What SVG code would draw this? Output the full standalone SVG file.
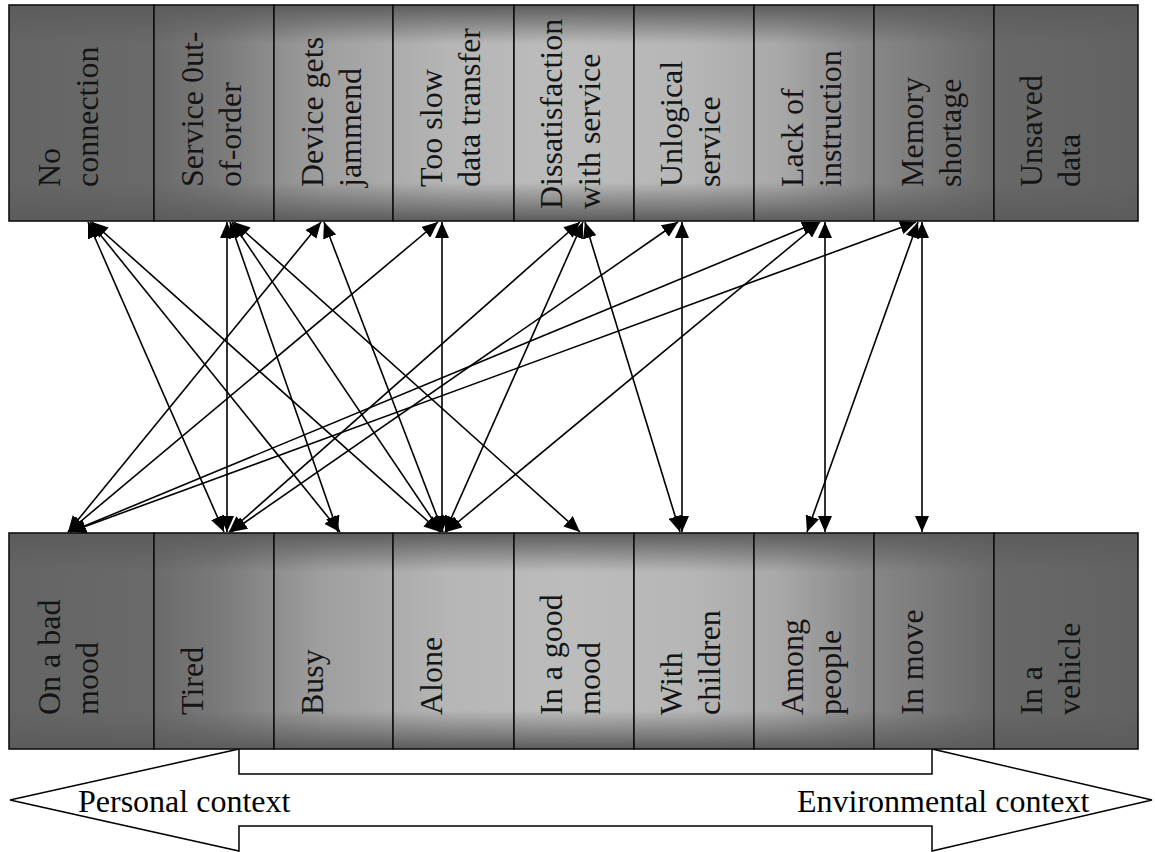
<svg xmlns="http://www.w3.org/2000/svg" width="1155" height="852" viewBox="0 0 1155 852">
<defs>
<linearGradient id="hg" gradientUnits="userSpaceOnUse" x1="9" y1="0" x2="1138" y2="0">
<stop offset="0" stop-color="#646464"/>
<stop offset="0.125" stop-color="#6a6a6a"/>
<stop offset="0.187" stop-color="#7a7a7a"/>
<stop offset="0.275" stop-color="#9e9e9e"/>
<stop offset="0.39" stop-color="#b6b6b6"/>
<stop offset="0.497" stop-color="#bcbcbc"/>
<stop offset="0.603" stop-color="#b6b6b6"/>
<stop offset="0.683" stop-color="#a8a8a8"/>
<stop offset="0.754" stop-color="#8a8a8a"/>
<stop offset="0.816" stop-color="#7a7a7a"/>
<stop offset="0.878" stop-color="#686868"/>
<stop offset="1" stop-color="#626262"/>
</linearGradient>
<linearGradient id="vg" x1="0" y1="0" x2="0" y2="1">
<stop offset="0" stop-color="#5c5c5c" stop-opacity="1"/>
<stop offset="0.18" stop-color="#5c5c5c" stop-opacity="0"/>
<stop offset="0.82" stop-color="#5c5c5c" stop-opacity="0"/>
<stop offset="1" stop-color="#5c5c5c" stop-opacity="1"/>
</linearGradient>
<marker id="ah" viewBox="0 0 16 14" refX="16" refY="7" markerWidth="16" markerHeight="14" markerUnits="userSpaceOnUse" orient="auto-start-reverse">
<path d="M0,0 L16,7 L0,14 z" fill="#000"/>
</marker>
<style>
.bg{fill:url(#hg);}
.sh{fill:url(#vg);stroke:#111;stroke-width:1.6;}
.lbl{font-family:"Liberation Serif","Times New Roman",serif;font-size:32px;fill:#141414;}
.ln{stroke:#000;stroke-width:1.6;fill:none;marker-start:url(#ah);marker-end:url(#ah);}
.ctx{fill:#fff;stroke:#000;stroke-width:1.5;}
.ctxt{font-family:"Liberation Serif","Times New Roman",serif;font-size:32px;fill:#000;}
</style>
</defs>
<rect width="1155" height="852" fill="#fff"/>

<g id="context-arrow">
<polygon class="ctx" points="10,800 239,749 239,774 932,774 932,749 1152,800 932,851 932,826 239,826 239,851"/>
<text class="ctxt" x="78" y="812">Personal context</text>
<text class="ctxt" x="797" y="812">Environmental context</text>
</g>

<g id="n-no-connection"><rect class="bg" x="9" y="5" width="145" height="216"/><rect class="sh" x="9" y="5" width="145" height="216"/>
<text class="lbl" transform="translate(60,187) rotate(-90)"><tspan x="0" y="0">No</tspan><tspan x="0" y="38">connection</tspan></text></g>
<g id="n-service-out-of-order"><rect class="bg" x="154" y="5" width="120" height="216"/><rect class="sh" x="154" y="5" width="120" height="216"/>
<text class="lbl" transform="translate(203,187) rotate(-90)"><tspan x="0" y="0">Service 0ut-</tspan><tspan x="0" y="38">of-order</tspan></text></g>
<g id="n-device-jammend"><rect class="bg" x="274" y="5" width="119" height="216"/><rect class="sh" x="274" y="5" width="119" height="216"/>
<text class="lbl" transform="translate(323,187) rotate(-90)"><tspan x="0" y="0">Device gets</tspan><tspan x="0" y="38">jammend</tspan></text></g>
<g id="n-too-slow"><rect class="bg" x="393" y="5" width="121" height="216"/><rect class="sh" x="393" y="5" width="121" height="216"/>
<text class="lbl" transform="translate(442,187) rotate(-90)"><tspan x="0" y="0">Too slow</tspan><tspan x="0" y="38">data transfer</tspan></text></g>
<g id="n-dissatisfaction"><rect class="bg" x="514" y="5" width="120" height="216"/><rect class="sh" x="514" y="5" width="120" height="216"/>
<text class="lbl" transform="translate(562,209) rotate(-90)"><tspan x="0" y="0">Dissatisfaction</tspan><tspan x="0" y="38">with service</tspan></text></g>
<g id="n-unlogical"><rect class="bg" x="634" y="5" width="120" height="216"/><rect class="sh" x="634" y="5" width="120" height="216"/>
<text class="lbl" transform="translate(682,187) rotate(-90)"><tspan x="0" y="0">Unlogical</tspan><tspan x="0" y="38">service</tspan></text></g>
<g id="n-lack-of-instruction"><rect class="bg" x="754" y="5" width="120" height="216"/><rect class="sh" x="754" y="5" width="120" height="216"/>
<text class="lbl" transform="translate(803,187) rotate(-90)"><tspan x="0" y="0">Lack of</tspan><tspan x="0" y="38">instruction</tspan></text></g>
<g id="n-memory-shortage"><rect class="bg" x="874" y="5" width="120" height="216"/><rect class="sh" x="874" y="5" width="120" height="216"/>
<text class="lbl" transform="translate(923,187) rotate(-90)"><tspan x="0" y="0">Memory</tspan><tspan x="0" y="38">shortage</tspan></text></g>
<g id="n-unsaved-data"><rect class="bg" x="994" y="5" width="144" height="216"/><rect class="sh" x="994" y="5" width="144" height="216"/>
<text class="lbl" transform="translate(1042,187) rotate(-90)"><tspan x="0" y="0">Unsaved</tspan><tspan x="0" y="38">data</tspan></text></g>

<g id="n-bad-mood"><rect class="bg" x="9" y="533" width="145" height="216"/><rect class="sh" x="9" y="533" width="145" height="216"/>
<text class="lbl" transform="translate(60,715) rotate(-90)"><tspan x="0" y="0">On a bad</tspan><tspan x="0" y="38">mood</tspan></text></g>
<g id="n-tired"><rect class="bg" x="154" y="533" width="120" height="216"/><rect class="sh" x="154" y="533" width="120" height="216"/>
<text class="lbl" transform="translate(203,715) rotate(-90)">Tired</text></g>
<g id="n-busy"><rect class="bg" x="274" y="533" width="119" height="216"/><rect class="sh" x="274" y="533" width="119" height="216"/>
<text class="lbl" transform="translate(323,715) rotate(-90)">Busy</text></g>
<g id="n-alone"><rect class="bg" x="393" y="533" width="121" height="216"/><rect class="sh" x="393" y="533" width="121" height="216"/>
<text class="lbl" transform="translate(442,715) rotate(-90)">Alone</text></g>
<g id="n-good-mood"><rect class="bg" x="514" y="533" width="120" height="216"/><rect class="sh" x="514" y="533" width="120" height="216"/>
<text class="lbl" transform="translate(562,715) rotate(-90)"><tspan x="0" y="0">In a good</tspan><tspan x="0" y="38">mood</tspan></text></g>
<g id="n-with-children"><rect class="bg" x="634" y="533" width="120" height="216"/><rect class="sh" x="634" y="533" width="120" height="216"/>
<text class="lbl" transform="translate(682,715) rotate(-90)"><tspan x="0" y="0">With</tspan><tspan x="0" y="38">children</tspan></text></g>
<g id="n-among-people"><rect class="bg" x="754" y="533" width="120" height="216"/><rect class="sh" x="754" y="533" width="120" height="216"/>
<text class="lbl" transform="translate(803,715) rotate(-90)"><tspan x="0" y="0">Among</tspan><tspan x="0" y="38">people</tspan></text></g>
<g id="n-in-move"><rect class="bg" x="874" y="533" width="120" height="216"/><rect class="sh" x="874" y="533" width="120" height="216"/>
<text class="lbl" transform="translate(923,715) rotate(-90)">In move</text></g>
<g id="n-in-vehicle"><rect class="bg" x="994" y="533" width="144" height="216"/><rect class="sh" x="994" y="533" width="144" height="216"/>
<text class="lbl" transform="translate(1042,715) rotate(-90)"><tspan x="0" y="0">In a</tspan><tspan x="0" y="38">vehicle</tspan></text></g>

<g id="connectors">
<line class="ln" x1="88" y1="222" x2="224" y2="532"/>
<line class="ln" x1="90" y1="222" x2="340" y2="532"/>
<line class="ln" x1="92" y1="222" x2="440" y2="532"/>
<line class="ln" x1="227" y1="222" x2="227" y2="532"/>
<line class="ln" x1="230" y1="222" x2="338" y2="532"/>
<line class="ln" x1="232" y1="222" x2="441" y2="532"/>
<line class="ln" x1="234" y1="222" x2="580" y2="532"/>
<line class="ln" x1="321" y1="222" x2="68" y2="532"/>
<line class="ln" x1="324" y1="222" x2="443" y2="532"/>
<line class="ln" x1="442" y1="222" x2="442" y2="532"/>
<line class="ln" x1="438" y1="222" x2="68" y2="532"/>
<line class="ln" x1="580" y1="222" x2="229" y2="532"/>
<line class="ln" x1="583" y1="222" x2="445" y2="532"/>
<line class="ln" x1="585" y1="222" x2="680" y2="532"/>
<line class="ln" x1="678" y1="222" x2="231" y2="532"/>
<line class="ln" x1="682" y1="222" x2="682" y2="532"/>
<line class="ln" x1="818" y1="222" x2="70" y2="532"/>
<line class="ln" x1="820" y1="222" x2="446" y2="532"/>
<line class="ln" x1="825" y1="222" x2="825" y2="532"/>
<line class="ln" x1="916" y1="222" x2="70" y2="532"/>
<line class="ln" x1="918" y1="222" x2="807" y2="532"/>
<line class="ln" x1="922" y1="222" x2="922" y2="532"/>
</g>
</svg>
